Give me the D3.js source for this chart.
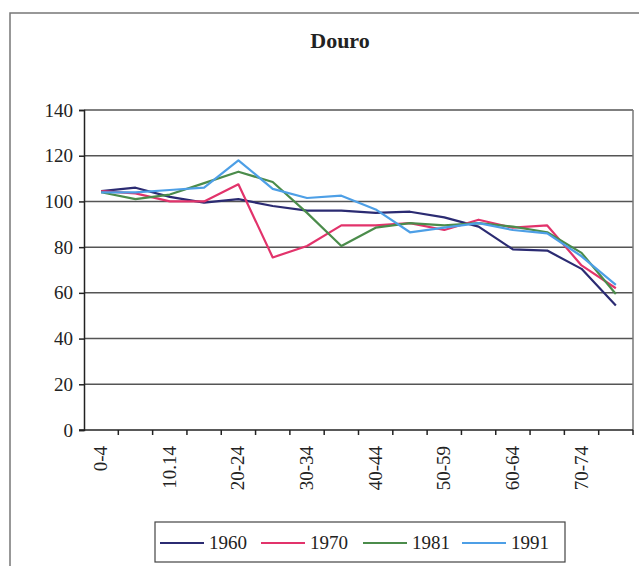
<!DOCTYPE html>
<html>
<head>
<meta charset="utf-8">
<script src="https://cdn.jsdelivr.net/npm/d3@7"></script>
<style>
  html, body { margin: 0; padding: 0; background: #fff; }
  svg { display: block; }
</style>
</head>
<body>
<svg id="chart" width="639" height="566"></svg>
<script>
const categories = ["0-4","5-9","10.14","15-19","20-24","25-29","30-34","35-39","40-44","45-49","50-59","55-59","60-64","65-69","70-74","75+"];
const shownLabels = ["0-4","10.14","20-24","30-34","40-44","50-59","60-64","70-74"];
const yTicks = [0,20,40,60,80,100,120,140];
const seriesNames = ["1960","1970","1981","1991"];
const values1960 = [104.5,106,102,99.5,101,98,96,96,95,95.5,93,89,79,78.5,70.5,54.5];
const values1970 = [104.5,103.5,100,100,107.5,75.5,80.5,89.5,89.5,90.5,87.5,92,88.5,89.5,72,62];
const values1981 = [104,101,103,108,113,108.5,95,80.5,88.5,90.5,89.5,90.5,89,86.5,77.5,59.5];
const values1991 = [104,104,105,106,118,105.5,101.5,102.5,96.5,86.5,88.5,90.5,87.5,86,76,63.5];
const colors = ["#2b2b72","#e2336b","#4b8c4b","#4d9fe6"];

const series = [values1960, values1970, values1981, values1991];
const svg = d3.select("#chart");
const font = "'Liberation Serif', 'Times New Roman', serif";

// outer chart frame (top/left visible)
svg.append("rect").attr("x",10).attr("y",13).attr("width",700).attr("height",700)
  .attr("fill","none").attr("stroke","#777").attr("stroke-width",1.5);

const L = 84, R = 633, T = 110, B = 430;
const x = d3.scaleBand().domain(categories).range([L, R]).padding(0);
const y = d3.scaleLinear().domain([0, 140]).range([B, T]);

// title
svg.append("text").attr("x", 340).attr("y", 48).attr("text-anchor","middle")
  .attr("font-family", font).attr("font-weight","bold").attr("font-size", 22)
  .attr("fill","#222").text("Douro");

// gridlines
svg.append("g").selectAll("line").data(yTicks.filter(d => d > 0)).join("line")
  .attr("x1", L).attr("x2", R).attr("y1", d => y(d)).attr("y2", d => y(d))
  .attr("stroke","#555").attr("stroke-width",1.5);

// right border
svg.append("line").attr("x1", R).attr("x2", R).attr("y1", T).attr("y2", B)
  .attr("stroke","#777").attr("stroke-width",1.5);

// y axis
const yAxis = d3.axisLeft(y).tickValues(yTicks).tickSize(5).tickPadding(6);
const gy = svg.append("g").attr("transform", `translate(${L},0)`).call(yAxis);
gy.select(".domain").attr("stroke","#222").attr("stroke-width",1.5);
gy.selectAll(".tick line").attr("stroke","#222").attr("stroke-width",1.5);
gy.selectAll(".tick text").attr("font-family", font).attr("font-size", 19).attr("fill","#222");

// x axis
const gx = svg.append("g").attr("transform", `translate(0,${B})`);
gx.append("line").attr("x1", L - 5).attr("x2", R).attr("y1", 0).attr("y2", 0)
  .attr("stroke","#222").attr("stroke-width",1.5);
gx.selectAll("line.tk").data(categories.slice(1).concat(["_end"])).join("line")
  .attr("class","tk")
  .attr("x1", (d,i) => x(categories[i]) + x.bandwidth())
  .attr("x2", (d,i) => x(categories[i]) + x.bandwidth())
  .attr("y1", 0).attr("y2", 5).attr("stroke","#222").attr("stroke-width",1.5);
gx.selectAll("text").data(categories.filter(c => shownLabels.includes(c))).join("text")
  .attr("transform", d => `translate(${x(d) + x.bandwidth()/2 + 6},16) rotate(-90)`)
  .attr("text-anchor","end")
  .attr("font-family", font).attr("font-size", 19).attr("fill","#222")
  .text(d => d);

// lines
const line = d3.line().x((d,i) => x(categories[i]) + x.bandwidth()/2).y(d => y(d));
svg.append("g").selectAll("path").data(series).join("path")
  .attr("d", d => line(d)).attr("fill","none")
  .attr("stroke", (d,i) => colors[i]).attr("stroke-width", 2.2)
  .attr("stroke-linejoin","round");

// legend
const lg = svg.append("g");
lg.append("rect").attr("x",155).attr("y",522).attr("width",410).attr("height",40)
  .attr("fill","#fff").attr("stroke","#444").attr("stroke-width",1.2);
const legX = [160, 261, 363, 462];
seriesNames.forEach((name, i) => {
  lg.append("line").attr("x1", legX[i]).attr("x2", legX[i] + 44).attr("y1", 543).attr("y2", 543)
    .attr("stroke", colors[i]).attr("stroke-width", 2.2);
  lg.append("text").attr("x", legX[i] + 49).attr("y", 549)
    .attr("font-family", font).attr("font-size", 19).attr("fill","#222").text(name);
});
</script>
</body>
</html>
